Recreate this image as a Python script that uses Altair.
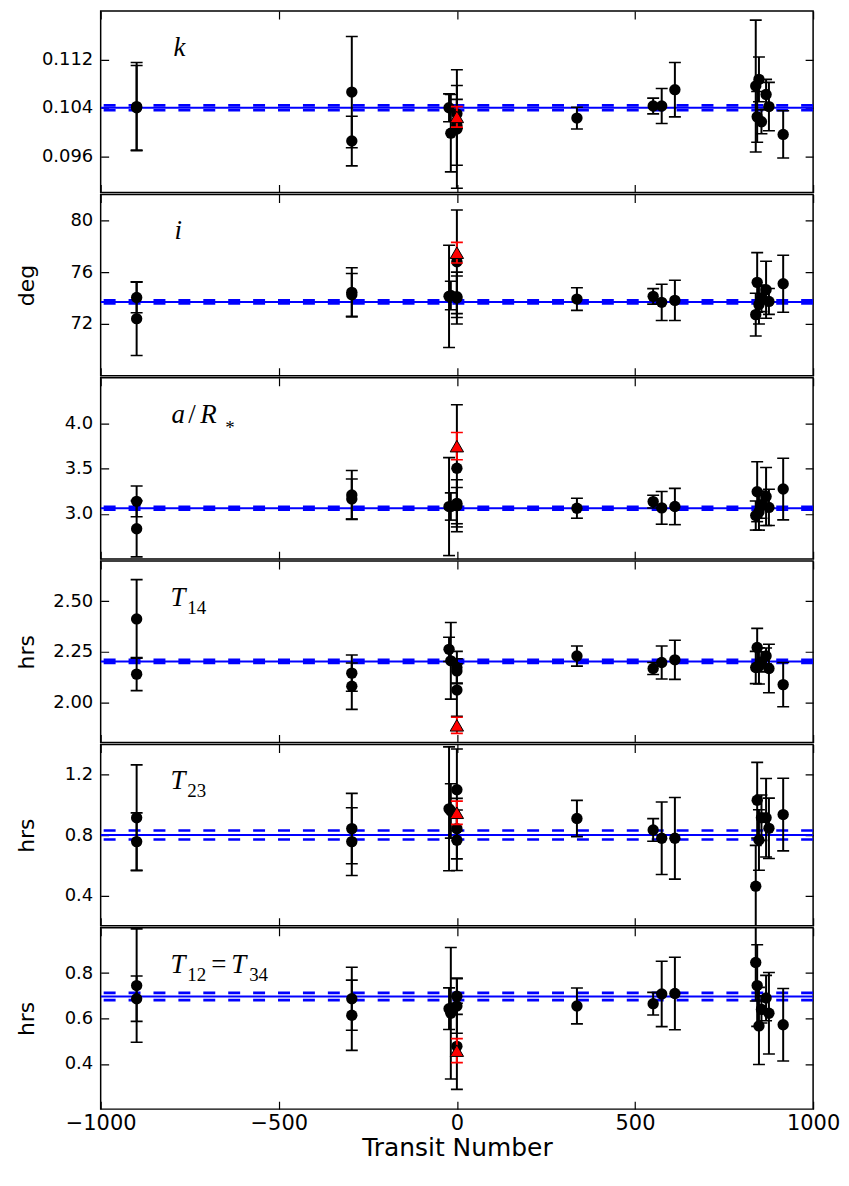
import altair as alt
import pandas as pd

# ---------------- data ----------------
epochs = [-899, -899, -295, -295, -22, -17, 0, 0, 0, 337,
          551, 575, 612, 839, 843, 848, 855, 868, 876, 916]

k_vals = [0.1042, 0.1040, 0.1066, 0.0985, 0.1040, 0.0998, 0.1005, 0.1011, 0.1030, 0.1023,
          0.1043, 0.1043, 0.1070, 0.1076, 0.1025, 0.1087, 0.1017, 0.1062, 0.1042, 0.0996]
k_errs = [0.0073, 0.0070, 0.0092, 0.0041, 0.0023, 0.0064, 0.0098, 0.0066, 0.0024, 0.0018,
          0.0013, 0.0029, 0.0045, 0.0109, 0.0042, 0.0037, 0.0020, 0.0025, 0.0040, 0.0039]

i_vals = [74.05, 72.41, 74.44, 74.25, 74.13, 74.20, 76.80, 74.10, 74.00, 73.92,
          74.13, 73.67, 73.82, 72.72, 75.21, 73.50, 73.95, 74.64, 73.74, 75.10]
i_errs = [1.18, 2.85, 1.90, 1.65, 3.95, 1.10, 4.00, 1.60, 2.00, 0.87,
          0.60, 1.40, 1.55, 1.65, 2.30, 1.50, 1.00, 2.20, 1.00, 2.20]

aR_vals = [3.137, 2.835, 3.207, 3.163, 3.079, 3.080, 3.502, 3.115, 3.090, 3.061,
           3.134, 3.065, 3.080, 2.980, 3.243, 3.020, 3.100, 3.190, 3.070, 3.273]
aR_errs = [0.17, 0.31, 0.27, 0.22, 0.54, 0.15, 0.70, 0.26, 0.20, 0.11,
           0.07, 0.18, 0.20, 0.16, 0.33, 0.20, 0.15, 0.32, 0.20, 0.34]

T14_vals = [2.413, 2.139, 2.144, 2.079, 2.262, 2.205, 2.172, 2.155, 2.060, 2.229,
            2.167, 2.197, 2.210, 2.172, 2.271, 2.180, 2.200, 2.229, 2.167, 2.087]
T14_errs = [0.195, 0.082, 0.090, 0.115, 0.060, 0.190, 0.080, 0.060, 0.130, 0.050,
            0.030, 0.082, 0.097, 0.080, 0.095, 0.090, 0.050, 0.040, 0.120, 0.110]

T23_vals = [0.915, 0.757, 0.843, 0.757, 0.974, 0.960, 1.100, 0.843, 0.766, 0.910,
            0.834, 0.779, 0.779, 0.462, 1.031, 0.768, 0.915, 0.915, 0.845, 0.936]
T23_errs = [0.350, 0.190, 0.233, 0.224, 0.410, 0.180, 0.270, 0.200, 0.200, 0.120,
            0.075, 0.240, 0.270, 0.270, 0.250, 0.200, 0.150, 0.260, 0.200, 0.240]

T12_vals = [0.745, 0.687, 0.687, 0.614, 0.643, 0.623, 0.698, 0.655, 0.477, 0.655,
            0.665, 0.708, 0.710, 0.847, 0.745, 0.567, 0.640, 0.690, 0.623, 0.572]
T12_errs = [0.250, 0.100, 0.139, 0.155, 0.092, 0.290, 0.080, 0.120, 0.190, 0.079,
            0.050, 0.144, 0.160, 0.170, 0.180, 0.170, 0.060, 0.100, 0.180, 0.160]

red_epoch = 0
red_vals = [0.1025, 77.5, 3.746, 1.885, 0.948, 0.458]
red_errs = [0.0017, 0.8, 0.15, 0.04, 0.077, 0.053]

mean_vals = [0.1040, 73.70, 3.061, 2.202, 0.801, 0.697]
mean_sigs = [0.0004, 0.12, 0.015, 0.008, 0.030, 0.016]

y_domains = [[0.090, 0.120], [68, 82], [2.5, 4.5], [1.8, 2.7], [0.2, 1.4], [0.2, 1.0]]
y_ticks = [[0.096, 0.104, 0.112], [72, 76, 80], [3.0, 3.5, 4.0],
           [2.00, 2.25, 2.50], [0.4, 0.8, 1.2], [0.4, 0.6, 0.8]]
y_formats = [".3f", "d", ".1f", ".2f", ".1f", ".1f"]
y_titles = ["", "deg", "", "hrs", "hrs", "hrs"]
x_ticks = [-1000, -500, 0, 500, 1000]

all_vals = [k_vals, i_vals, aR_vals, T14_vals, T23_vals, T12_vals]
all_errs = [k_errs, i_errs, aR_errs, T14_errs, T23_errs, T12_errs]

# panel labels: (text, x, y, size, italic)
panel_labels = [
    [("k", 73, 45, 27, True)],
    [("i", 74, 45, 27, True)],
    [("a", 71, 45, 27, True), ("/", 88, 45, 27, False), ("R", 100, 45, 27, True),
     ("*", 125, 56, 19, False)],
    [("T", 70, 45, 27, True), ("14", 87, 53, 19, False)],
    [("T", 70, 45, 27, True), ("23", 87, 53, 19, False)],
    [("T", 70, 45, 27, True), ("12", 87, 53, 19, False), ("=", 111, 45, 27, False),
     ("T", 131, 45, 27, True), ("34", 149, 53, 19, False)],
]

W, H = 715, 182
YLAB_FS = 18
XLAB_FS = 21
TITLE_FS = 22


def make_panel(idx, bottom):
    vals, errs = all_vals[idx], all_errs[idx]
    df = pd.DataFrame({"epoch": epochs, "val": vals, "err": errs})
    df["lo"] = df["val"] - df["err"]
    df["hi"] = df["val"] + df["err"]
    rv, re_ = red_vals[idx], red_errs[idx]
    rdf = pd.DataFrame({"epoch": [red_epoch], "val": [rv], "lo": [rv - re_], "hi": [rv + re_]})
    mdf = pd.DataFrame({"v": [mean_vals[idx]]})
    ddf = pd.DataFrame({"v": [mean_vals[idx] - mean_sigs[idx], mean_vals[idx] + mean_sigs[idx]]})

    xs = alt.Scale(domain=[-1000, 1000], nice=False, zero=False, padding=0)
    ys = alt.Scale(domain=y_domains[idx], nice=False, zero=False, padding=0)

    yaxis = alt.Axis(values=y_ticks[idx], format=y_formats[idx], ticks=False, tickSize=0,
                     domain=False, grid=True, gridColor="black", gridOpacity=1,
                     gridWidth=1.2, gridDash=[8, W - 16], labelFontSize=YLAB_FS,
                     labelPadding=8, minExtent=58, maxExtent=58, titlePadding=4,
                     titleFontSize=TITLE_FS, title=y_titles[idx])
    if bottom:
        xaxis = alt.Axis(values=x_ticks, format="d", ticks=False, tickSize=0, domain=False,
                         grid=True, gridColor="black", gridOpacity=1, gridWidth=1.2,
                         gridDash=[8, H - 16], labelFontSize=XLAB_FS, labelPadding=3,
                         labelFlush=False, labelOverlap=False,
                         titleFontSize=25, titlePadding=3, title="Transit Number")
    else:
        xaxis = alt.Axis(values=x_ticks, labels=False, ticks=False, tickSize=0, domain=False,
                         grid=True, gridColor="black", gridOpacity=1, gridWidth=1.2,
                         gridDash=[8, H - 16], title="")

    def X(f):
        return alt.X(f, scale=xs, axis=xaxis)

    def Y(f):
        return alt.Y(f, scale=ys, axis=yaxis)

    mean_line = alt.Chart(mdf).mark_rule(color="#0000ff", strokeWidth=2, clip=True).encode(
        y=Y("v:Q"))
    dash_lines = alt.Chart(ddf).mark_rule(color="#0000ff", strokeWidth=2.6, strokeDash=[12, 13],
                                          clip=True).encode(y=Y("v:Q"))

    bars = alt.Chart(df).mark_rule(color="black", strokeWidth=2, clip=True).encode(
        x=X("epoch:Q"), y=Y("lo:Q"), y2="hi:Q")
    cap_lo = alt.Chart(df).mark_tick(color="black", orient="horizontal", size=12, thickness=1.6,
                                     opacity=1, clip=True).encode(x=X("epoch:Q"), y=Y("lo:Q"))
    cap_hi = alt.Chart(df).mark_tick(color="black", orient="horizontal", size=12, thickness=1.6,
                                     opacity=1, clip=True).encode(x=X("epoch:Q"), y=Y("hi:Q"))
    pts = alt.Chart(df).mark_circle(color="black", size=130, opacity=1, clip=True).encode(
        x=X("epoch:Q"), y=Y("val:Q"))

    rbar = alt.Chart(rdf).mark_rule(color="red", strokeWidth=2, clip=True).encode(
        x=X("epoch:Q"), y=Y("lo:Q"), y2="hi:Q")
    rcap_lo = alt.Chart(rdf).mark_tick(color="red", orient="horizontal", size=12, thickness=1.6,
                                       opacity=1, clip=True).encode(x=X("epoch:Q"), y=Y("lo:Q"))
    rcap_hi = alt.Chart(rdf).mark_tick(color="red", orient="horizontal", size=12, thickness=1.6,
                                       opacity=1, clip=True).encode(x=X("epoch:Q"), y=Y("hi:Q"))
    rpt = alt.Chart(rdf).mark_point(shape="triangle-up", filled=True, fill="red", stroke="black",
                                    strokeWidth=1, size=180, opacity=1, clip=True).encode(
        x=X("epoch:Q"), y=Y("val:Q"))

    layers = [mean_line, dash_lines, bars, cap_lo, cap_hi, pts, rbar, rcap_lo, rcap_hi, rpt]

    one = pd.DataFrame({"d": [0]})
    for (s, tx, ty, fs, ital) in panel_labels[idx]:
        layers.append(
            alt.Chart(one).mark_text(text=s, align="left", baseline="alphabetic",
                                     font="Liberation Serif", fontSize=fs,
                                     fontStyle="italic" if ital else "normal",
                                     color="black").encode(x=alt.value(tx), y=alt.value(ty)))

    return alt.layer(*layers).properties(width=W, height=H)


panels = [make_panel(i, i == 5) for i in range(6)]

chart = alt.vconcat(*panels, spacing=0).properties(
    padding={"left": 7, "top": 0, "right": 0, "bottom": 5}
).configure_view(
    stroke="black", strokeWidth=1.5
).configure_axis(
    labelFont="DejaVu Sans", titleFont="DejaVu Sans", labelColor="black",
    titleColor="black", titleFontWeight="normal"
).configure_concat(spacing=0)

chart.save("out.html", embed_options={"renderer": "svg", "actions": False})
